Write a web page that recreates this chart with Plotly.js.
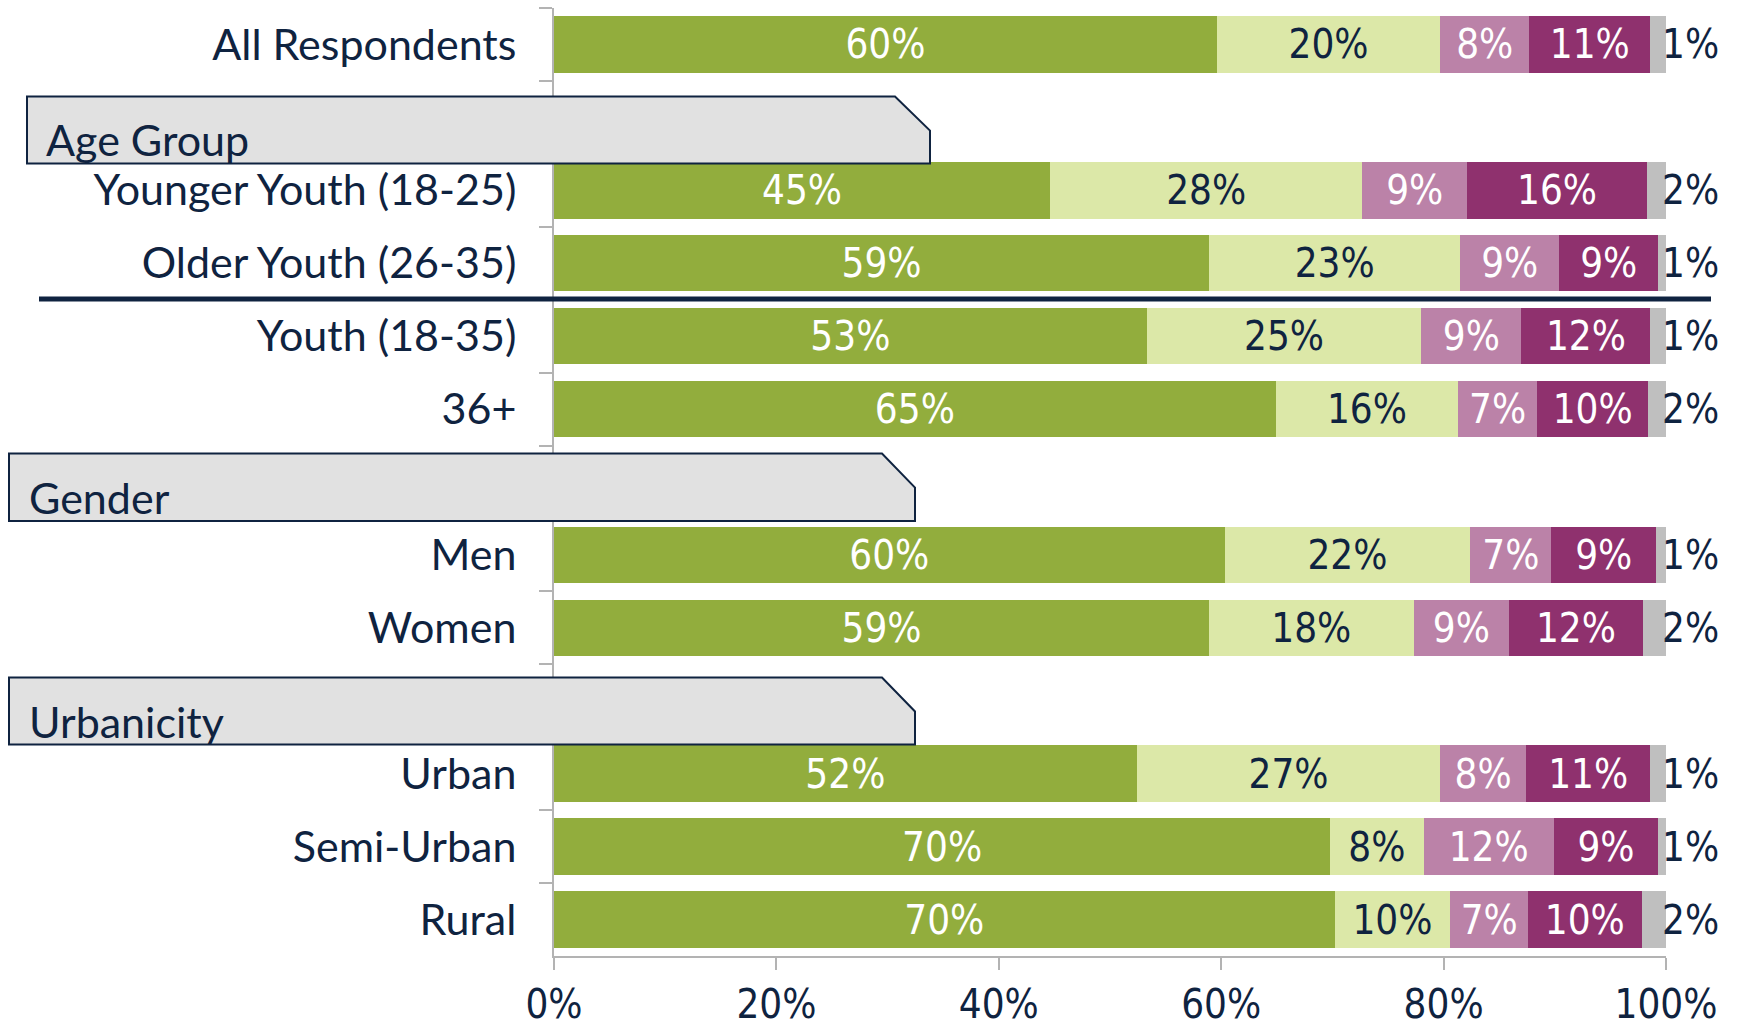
<!DOCTYPE html>
<html>
<head>
<meta charset="utf-8">
<script src="https://cdn.plot.ly/plotly-3.0.1.min.js"></script>
<style>html,body{margin:0;padding:0;background:#fff;}</style>
</head>
<body>
<div id="chart" style="width:1737px;height:1030px;"></div>
<script>
// ---- data ----
var categories = ['All Respondents', ' ', 'Younger Youth (18-25)', 'Older Youth (26-35)', 'Youth (18-35)', '36+', '  ', 'Men', 'Women', '   ', 'Urban', 'Semi-Urban', 'Rural'];
var series1 = [59.6, null, 44.6, 58.9, 53.3, 64.9, null, 60.3, 58.9, null, 52.4, 69.8, 70.2];
var series2 = [20.1, null, 28.1, 22.6, 24.7, 16.4, null, 22.1, 18.4, null, 27.3, 8.4, 10.4];
var series3 = [8.0, null, 9.4, 8.9, 9.0, 7.1, null, 7.3, 8.6, null, 7.7, 11.7, 7.0];
var series4 = [10.9, null, 16.2, 8.9, 11.6, 10.0, null, 9.4, 12.0, null, 11.2, 9.4, 10.2];
var series5 = [1.4, null, 1.7, 0.7, 1.4, 1.6, null, 0.9, 2.1, null, 1.4, 0.7, 2.2];
var seriesNames = ['Response 1', 'Response 2', 'Response 3', 'Response 4', 'Response 5'];
var xTickVals = [0, 20, 40, 60, 80, 100];
var xTickText = ['0%', '20%', '40%', '60%', '80%', '100%'];
var sectionHeaders = ['Age Group', 'Gender', 'Urbanicity'];

// ---- style ----
var W = 1737, H = 1030;
var M = {l: 554, r: 71, t: 8.4, b: 73.5};
var NAVY = '#0f2340';
var FONT = 'Lato, "Liberation Sans", sans-serif';
var NUMFONT = '"DejaVu Sans Condensed", Lato, sans-serif';
var FS = 43;
var NFS = 40;
var colors = ['#92ad3d', '#dce8a8', '#bb82a8', '#8f316e', '#bfbfbf'];
var insideColors = ['#ffffff', NAVY, '#ffffff', '#ffffff', NAVY];
var allSeries = [series1, series2, series3, series4, series5];

function px(x) { return (x - M.l) / (W - M.l - M.r); }
function py(y) { return 1 - (y - M.t) / (H - M.t - M.b); }

var traces = allSeries.map(function (vals, i) {
  var last = (i === allSeries.length - 1);
  return {
    type: 'bar',
    orientation: 'h',
    name: seriesNames[i],
    y: categories,
    x: vals,
    marker: {color: colors[i], line: {width: 0}},
    texttemplate: last ? '' : '%{x:.0f}%',
    textposition: last ? 'none' : 'inside',
    insidetextanchor: 'middle',
    textangle: 0,
    constraintext: 'none',
    cliponaxis: false,
    insidetextfont: {family: NUMFONT, size: NFS, color: insideColors[i]},
    hoverinfo: 'skip'
  };
});

var shapes = [];
var annotations = [];

// labels for the last (grey) segment, placed just past the bar end
categories.forEach(function (c, k) {
  var v = series5[k];
  if (v === null) return;
  annotations.push({xref: 'x', yref: 'y', x: 100, y: c, xanchor: 'center', yanchor: 'middle',
    xshift: 24, showarrow: false, text: Math.round(v) + '%',
    font: {family: NUMFONT, size: NFS, color: NAVY}});
});

// header boxes (pixel geometry converted to paper)
var boxes = [
  {x0: 27, x1: 930, xc: 895, y0: 97, y1: 164, yc: 131, tx: 44, ty: 140},
  {x0: 9, x1: 915, xc: 882, y0: 454, y1: 521.5, yc: 488, tx: 27, ty: 498},
  {x0: 9, x1: 915, xc: 882, y0: 678, y1: 745, yc: 712, tx: 27, ty: 722}
];
boxes.forEach(function (b, i) {
  var p = 'M ' + px(b.x0) + ',' + py(b.y0) +
          ' L ' + px(b.xc) + ',' + py(b.y0) +
          ' L ' + px(b.x1) + ',' + py(b.yc) +
          ' L ' + px(b.x1) + ',' + py(b.y1) +
          ' L ' + px(b.x0) + ',' + py(b.y1) + ' Z';
  shapes.push({type: 'path', xref: 'paper', yref: 'paper', path: p,
    fillcolor: '#e1e1e1', line: {color: NAVY, width: 2}, layer: 'above'});
  annotations.push({xref: 'paper', yref: 'paper', x: px(b.tx), y: py(b.ty),
    xanchor: 'left', yanchor: 'middle', showarrow: false, text: sectionHeaders[i],
    font: {family: FONT, size: FS, color: NAVY}});
});
// separator line between Older Youth and Youth
shapes.push({type: 'line', xref: 'paper', yref: 'paper',
  x0: px(39), x1: px(1711), y0: py(299.5), y1: py(299.5),
  line: {color: NAVY, width: 5}, layer: 'above'});

var layout = {
  width: W, height: H, autosize: false,
  margin: M,
  paper_bgcolor: '#ffffff', plot_bgcolor: '#ffffff',
  barmode: 'stack',
  bargap: 0.225,
  showlegend: false,
  font: {family: FONT, size: FS, color: NAVY},
  xaxis: {
    range: [0, 100], tickmode: 'array', tickvals: xTickVals, ticktext: xTickText,
    showgrid: false, zeroline: false, showline: true, linecolor: '#b3b3b3', linewidth: 2,
    ticks: 'outside', ticklen: 12, tickcolor: '#b3b3b3', tickwidth: 2,
    tickfont: {family: NUMFONT, size: NFS, color: NAVY}, fixedrange: true
  },
  yaxis: {
    type: 'category', categoryorder: 'array', categoryarray: categories,
    range: [categories.length - 0.5, -0.5],
    showgrid: false, zeroline: false, showline: true, linecolor: '#b3b3b3', linewidth: 2,
    ticks: 'outside', tickson: 'boundaries', ticklen: 13, tickcolor: '#b3b3b3', tickwidth: 2,
    ticklabelstandoff: 27,
    tickfont: {family: FONT, size: FS, color: NAVY}, fixedrange: true
  },
  shapes: shapes,
  annotations: annotations
};

Plotly.newPlot('chart', traces, layout, {staticPlot: true, displayModeBar: false});
</script>
</body>
</html>
